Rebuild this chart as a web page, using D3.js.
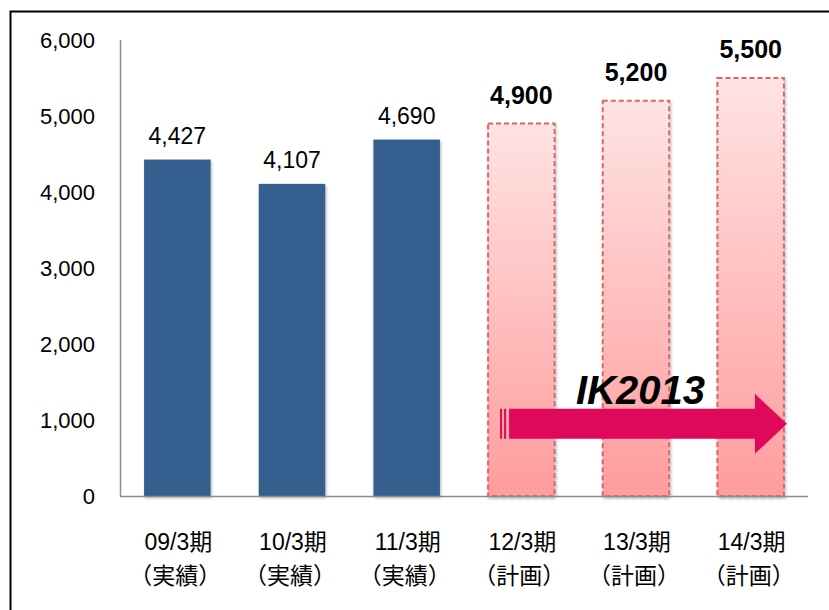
<!DOCTYPE html>
<html>
<head>
<meta charset="utf-8">
<script src="https://cdn.jsdelivr.net/npm/d3@7"></script>
<style>
  body { margin: 0; background: #fff; }
  svg { display: block; }
</style>
</head>
<body>
<svg width="829" height="610"></svg>
<script>
var width = 829, height = 610;
var margin = ({top: 40, right: 21, bottom: 114, left: 120});

// data
var periods = ["09/3期", "10/3期", "11/3期", "12/3期", "13/3期", "14/3期"];
var kinds = ["（実績）", "（実績）", "（実績）", "（計画）", "（計画）", "（計画）"];
var values = [4427, 4107, 4690, 4900, 5200, 5500];
var isPlan = [false, false, false, true, true, true];
var yTicks = [0, 1000, 2000, 3000, 4000, 5000, 6000];
var arrowLabel = "IK2013";

var data = periods.map((p, i) => ({period: p, kind: kinds[i], value: values[i], plan: isPlan[i]}));

var svg = d3.select("svg");
var jp = "'Liberation Sans', 'Noto Sans CJK JP', sans-serif";

// outer frame (right/bottom edges run off the picture)
svg.append("rect")
    .attr("x", 10.5).attr("y", 11.5)
    .attr("width", 900).attr("height", 700)
    .attr("fill", "none").attr("stroke", "#000").attr("stroke-width", 2);

var x = d3.scaleBand()
    .domain(periods)
    .range([margin.left, width - margin.right])
    .paddingInner(0.42).paddingOuter(0.21);

var y = d3.scaleLinear()
    .domain([0, 6000])
    .range([height - margin.bottom, margin.top]);

var defs = svg.append("defs");
var grad = defs.append("linearGradient")
    .attr("id", "planGrad").attr("x1", 0).attr("y1", 0).attr("x2", 0).attr("y2", 1);
grad.append("stop").attr("offset", "0%").attr("stop-color", "#ffe3e3");
grad.append("stop").attr("offset", "100%").attr("stop-color", "#ff9c9c");
var shadow = defs.append("filter").attr("id", "shadow")
    .attr("x", "-10%").attr("y", "-10%").attr("width", "130%").attr("height", "130%");
shadow.append("feDropShadow").attr("dx", 1).attr("dy", 2).attr("stdDeviation", 1.5)
    .attr("flood-color", "#000").attr("flood-opacity", 0.3);

// y axis
svg.append("line")
    .attr("x1", margin.left + 0.5).attr("x2", margin.left + 0.5)
    .attr("y1", y(6000)).attr("y2", y(0))
    .attr("stroke", "#8c8c8c").attr("stroke-width", 1.5);

svg.append("g")
    .selectAll("text")
    .data(yTicks)
    .join("text")
    .attr("x", 95)
    .attr("y", d => y(d))
    .attr("dy", "0.36em")
    .attr("text-anchor", "end")
    .attr("font-family", jp)
    .attr("font-size", 22)
    .attr("fill", "#000")
    .text(d => d3.format(",")(d));

// bars
svg.append("g")
    .selectAll("rect")
    .data(data)
    .join("rect")
    .attr("x", d => x(d.period))
    .attr("y", d => y(d.value))
    .attr("width", x.bandwidth())
    .attr("height", d => y(0) - y(d.value))
    .attr("fill", d => d.plan ? "url(#planGrad)" : "#355f8f")
    .attr("stroke", d => d.plan ? "#d46a6a" : "none")
    .attr("stroke-width", 2)
    .attr("stroke-dasharray", d => d.plan ? "5,3" : null)
    .attr("filter", "url(#shadow)");

// x axis line
svg.append("line")
    .attr("x1", margin.left).attr("x2", width - margin.right)
    .attr("y1", y(0) + 0.5).attr("y2", y(0) + 0.5)
    .attr("stroke", "#8c8c8c").attr("stroke-width", 1.5);

// value labels
svg.append("g")
    .selectAll("text")
    .data(data)
    .join("text")
    .attr("x", d => x(d.period) + x.bandwidth() / 2)
    .attr("y", d => y(d.value) - (d.plan ? 20 : 16))
    .attr("text-anchor", "middle")
    .attr("font-family", jp)
    .attr("font-size", d => d.plan ? 25 : 23)
    .attr("font-weight", d => d.plan ? "bold" : "normal")
    .attr("fill", "#000")
    .text(d => d3.format(",")(d.value));

// category labels
var cat = svg.append("g")
    .selectAll("text")
    .data(data)
    .join("text")
    .attr("text-anchor", "middle")
    .attr("font-family", jp)
    .attr("font-size", 23)
    .attr("fill", "#000");
cat.append("tspan")
    .attr("x", d => x(d.period) + x.bandwidth() / 2 + 1)
    .attr("y", 550)
    .text(d => d.period);
cat.append("tspan")
    .attr("x", d => x(d.period) + x.bandwidth() / 2 - 2)
    .attr("y", 584)
    .text(d => d.kind);

// IK2013 arrow
var ax0 = x(periods[3]) + 12;
var ax1 = x(periods[5]) + x.bandwidth() + 3;
var ay = y(950);
var bodyH = 30, headH = 60, headW = 32;
var arrow = svg.append("g").attr("fill", "#e0085a");
arrow.append("rect").attr("x", ax0).attr("y", ay - bodyH / 2).attr("width", 2).attr("height", bodyH);
arrow.append("rect").attr("x", ax0 + 4).attr("y", ay - bodyH / 2).attr("width", 2).attr("height", bodyH);
arrow.append("path")
    .attr("d", [
        "M", ax0 + 9, ay - bodyH / 2,
        "L", ax1 - headW, ay - bodyH / 2,
        "L", ax1 - headW, ay - headH / 2,
        "L", ax1, ay,
        "L", ax1 - headW, ay + headH / 2,
        "L", ax1 - headW, ay + bodyH / 2,
        "L", ax0 + 9, ay + bodyH / 2, "Z"
    ].join(" "));

svg.append("text")
    .attr("x", (ax0 + ax1) / 2 - 3)
    .attr("y", ay - 20)
    .attr("text-anchor", "middle")
    .attr("font-family", "'Liberation Sans', sans-serif")
    .attr("font-size", 40)
    .attr("font-weight", "bold")
    .attr("font-style", "italic")
    .attr("fill", "#000")
    .text(arrowLabel);
</script>
</body>
</html>
